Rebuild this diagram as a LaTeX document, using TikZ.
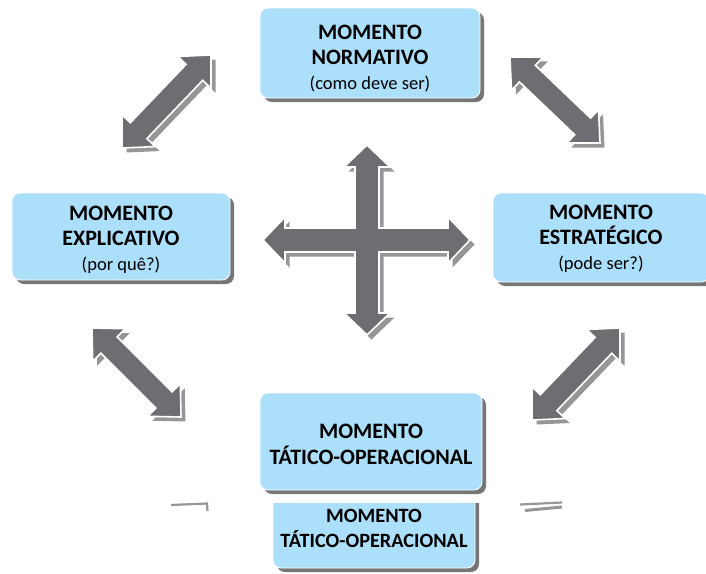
\documentclass[tikz,border=0pt]{standalone}
\usepackage{fontspec}
\setmainfont{Carlito}
\usetikzlibrary{calc,shadows}
\definecolor{boxblue}{RGB}{171,223,250}
\definecolor{arrgray}{RGB}{109,110,113}
\definecolor{arrshadow}{RGB}{150,150,152}
\definecolor{boxshadow}{RGB}{118,118,118}
\def\hl{24pt}
\def\hw{23pt}
\def\sw{11.5pt}
\newcommand\dblarrowpath[2]{(#1) -- ($(#1)!\hl!(#2)!\hw!90:(#2)$) -- ($(#1)!\hl!(#2)!\sw!90:(#2)$) -- ($(#2)!\hl!(#1)!\sw!-90:(#1)$) -- ($(#2)!\hl!(#1)!\hw!-90:(#1)$) -- (#2) -- ($(#2)!\hl!(#1)!\hw!90:(#1)$) -- ($(#2)!\hl!(#1)!\sw!90:(#1)$) -- ($(#1)!\hl!(#2)!\sw!-90:(#2)$) -- ($(#1)!\hl!(#2)!\hw!-90:(#2)$) -- cycle}
\newcommand\crosspath{(0,-95) -- (23,-73) -- (12,-73) -- (12,-12) -- (81,-12) -- (81,-23) -- (103,0) -- (81,23) -- (81,12) -- (12,12) -- (12,73) -- (23,73) -- (0,95) -- (-23,73) -- (-12,73) -- (-12,12) -- (-82,12) -- (-82,23) -- (-104,0) -- (-82,-23) -- (-82,-12) -- (-12,-12) -- (-12,-73) -- (-23,-73) -- cycle}
\tikzset{
  momentbox/.style={rounded corners=8pt, fill=boxblue, draw=white, line width=0.8pt,
    inner sep=0pt,
    drop shadow={shadow xshift=4pt, shadow yshift=-4pt, fill=boxshadow, opacity=1}},
  momenttext/.style={align=center, inner sep=0pt,
    font=\fontsize{22}{25}\selectfont\bfseries},
  arrshade/.style={fill=arrshadow, transform canvas={shift={(4.5pt,-4.5pt)}}},
  arrmain/.style={fill=arrgray, draw=white, line width=1.6pt, line join=miter},
  scrap/.style={draw=arrshadow, line width=2.2pt}
}
\newcommand\subt[1]{\fontsize{18.5}{25}\selectfont\mdseries #1}
\begin{document}
\begin{tikzpicture}[x=1pt,y=-1pt]
\useasboundingbox (0,0) rectangle (706,573);
\clip (0,0) rectangle (706,573);
% boxes
\node[momentbox, minimum width=220pt, minimum height=90pt] (norm) at (370,53) {};
\node[momenttext] (normtxt) at ($(norm.center)+(0,5.5)$)
  {MOMENTO\\NORMATIVO\\\subt{(como deve ser)}};
\node[momentbox, minimum width=218pt, minimum height=87pt] (expl) at (121,236.5) {};
\node[momenttext] (expltxt) at ($(expl.center)+(0,3)$)
  {MOMENTO\\EXPLICATIVO\\\subt{(por quê?)}};
\node[momentbox, minimum width=216pt, minimum height=89pt] (estr) at (601,237.5) {};
\node[momenttext] (estrtxt) at ($(estr.center)+(0,1.5)$)
  {MOMENTO\\ESTRATÉGICO\\\subt{(pode ser?)}};
\begin{scope}
  \clip (0,503) rectangle (706,573);
  \node[momentbox, minimum width=202pt, minimum height=86pt] (tat2) at (374,525) {};
  \node[momenttext, font=\fontsize{20.3}{25}\selectfont\bfseries] (tat2txt)
    at ($(tat2.center)+(0,3.5)$) {MOMENTO\\TÁTICO-OPERACIONAL};
\end{scope}
\node[momentbox, minimum width=222pt, minimum height=97pt] (tat) at (371,441.5) {};
\node[momenttext, font=\fontsize{22}{26.5}\selectfont\bfseries] (tattxt)
  at ($(tat.center)+(0,3)$) {MOMENTO\\TÁTICO-OPERACIONAL};
% arrow end points
\coordinate (a1s) at (122,148); \coordinate (a1e) at (211,55);
\coordinate (a2s) at (510,57);  \coordinate (a2e) at (600,143);
\coordinate (a3s) at (92,328);  \coordinate (a3e) at (181,417);
\coordinate (a4s) at (620,328); \coordinate (a4e) at (532,420);
% shadows
\foreach \s/\e in {a1s/a1e,a2s/a2e,a3s/a3e,a4s/a4e}{
  \path[arrshade] \dblarrowpath{\s}{\e};
}
\begin{scope}[shift={(367,240)}]
  \path[arrshade] \crosspath;
\end{scope}
% main arrows
\foreach \s/\e in {a1s/a1e,a2s/a2e,a3s/a3e,a4s/a4e}{
  \path[arrmain] \dblarrowpath{\s}{\e};
}
\begin{scope}[shift={(367,240)}]
  \path[arrmain] \crosspath;
\end{scope}
% leftover shadow scraps
\coordinate (s1a) at (171,505); \coordinate (s1b) at (207,503.5); \coordinate (s1c) at (207.5,511);
\draw[scrap] (s1a) -- (s1b) -- (s1c);
\coordinate (s2a) at (520,504.5); \coordinate (s2b) at (562,502.5);
\coordinate (s3a) at (525,510.5); \coordinate (s3b) at (562,507);
\draw[scrap] (s2a) -- (s2b);
\draw[scrap, line width=3pt] (s3a) -- (s3b);
\end{tikzpicture}
\end{document}
